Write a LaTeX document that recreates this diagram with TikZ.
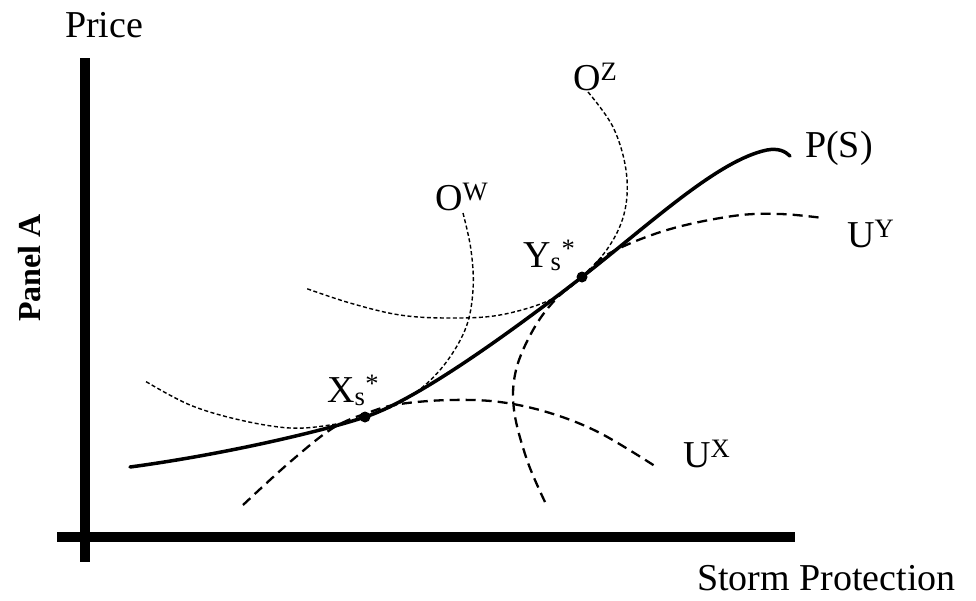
\documentclass[tikz,border=0pt]{standalone}
\usepackage{fontspec}
\setmainfont{Liberation Serif}
\begin{document}
\begin{tikzpicture}[x=1pt,y=-1pt,
  lab/.style={inner sep=0pt, anchor=base west, font=\fontsize{38}{44}\selectfont},
  axisline/.style={line width=10.5pt},
  pcurve/.style={line width=3.5pt, line cap=round},
  ucurve/.style={line width=2.3pt, dash pattern=on 10pt off 6pt},
  ocurve/.style={line width=1.4pt, dash pattern=on 4pt off 2.5pt},
  eqdot/.style={circle, fill=black, inner sep=0pt, minimum size=11pt}]
\useasboundingbox (0,0) rectangle (976,600);
% axes
\coordinate (ytop) at (85,58);
\coordinate (ybot) at (85,562);
\coordinate (xleft) at (57,537);
\coordinate (xright) at (795,537);
\draw[axisline] (ytop) -- (ybot);
\draw[axisline] (xleft) -- (xright);
% axis labels
\node[lab] (price) at (65,37) {Price};
\node[lab] (storm) at (697,590) {Storm Protection};
\node[inner sep=0pt, rotate=90, font=\fontsize{32}{38}\selectfont\bfseries] (panel) at (30,268) {Panel A};
% equilibrium points (positions)
\coordinate (Xp) at (365,417);
\coordinate (Yp) at (582,277);
% offer curves
\draw[ocurve] plot[smooth, tension=0.6] coordinates {(463,213) (471,250) (473,290) (465,330) (440,370) (405,400) (365,417) (330,425) (290,428) (240,420) (190,405) (145,381)};
\draw[ocurve] plot[smooth, tension=0.6] coordinates {(588,92) (613,127) (626,170) (625,210) (610,245) (582,277) (550,300) (500,315) (450,318) (400,315) (350,303) (305,288)};
% indifference curves
\draw[ucurve] plot[smooth, tension=0.6] coordinates {(243,505) (290,462) (333,428) (370,412) (400,404) (450,400) (500,402) (550,413) (600,433) (658,468)};
\draw[ucurve] plot[smooth, tension=0.6] coordinates {(545,502) (527,460) (514,410) (516,370) (533,330) (555,300) (582,277) (610,253) (667,230) (733,216) (780,214) (823,218)};
% price schedule
\coordinate (pstart) at (130,467);
\coordinate (ptop) at (767,150);
\coordinate (pend) at (790,156);
\draw[pcurve] (pstart) .. controls (220,455) and (320,432) .. (Xp)
  .. controls (420,399) and (520,325) .. (Yp)
  .. controls (650,224) and (718,160) .. (ptop)
  .. controls (778,148) and (785,151) .. (pend);
% equilibrium dots
\node[eqdot] (X) at (Xp) {};
\node[eqdot] (Y) at (Yp) {};
% curve labels
\node[lab] (ps) at (805,157) {P(S)};
\node[lab] (uy) at (847,247) {U\textsuperscript{Y}};
\node[lab] (ux) at (683,467) {U\textsuperscript{X}};
\node[lab] (oz) at (573,90) {O\textsuperscript{Z}};
\node[lab] (ow) at (435,210) {O\textsuperscript{W}};
\node[lab] (xs) at (327,402) {X\textsubscript{s}\textsuperscript{*}};
\node[lab] (ys) at (523,267) {Y\textsubscript{s}\textsuperscript{*}};
\end{tikzpicture}
\end{document}
